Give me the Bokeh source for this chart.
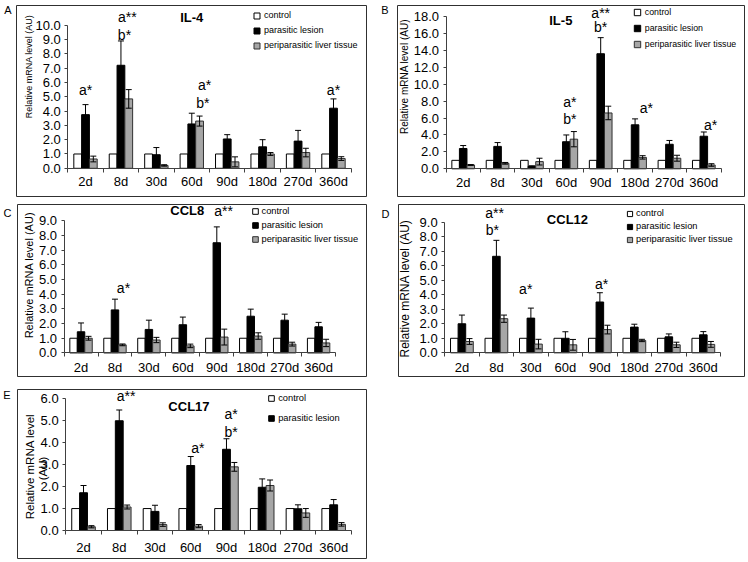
import numpy as np
from bokeh.plotting import figure
from bokeh.models import (Range1d, FixedTicker, NumeralTickFormatter, ColumnDataSource,
                          Whisker, TeeHead, Label, LabelSet, Legend, LegendItem,
                          LinearAxis, Spacer)
from bokeh.layouts import row, column
from bokeh.core.properties import value
from bokeh.embed import file_html
from bokeh.resources import INLINE

# ---------------- data ----------------
days = ["2d", "8d", "30d", "60d", "90d", "180d", "270d", "360d"]
series_names = ["control", "parasitic lesion", "periparasitic liver tissue"]
control = [1.0, 1.0, 1.0, 1.0, 1.0, 1.0, 1.0, 1.0]

# A  IL-4
il4_lesion = [3.75, 7.2, 0.95, 3.1, 2.05, 1.5, 1.9, 4.2]
il4_lesion_err = [0.7, 1.7, 0.5, 0.75, 0.3, 0.5, 0.75, 0.65]
il4_peri = [0.65, 4.85, 0.2, 3.3, 0.45, 1.0, 1.1, 0.68]
il4_peri_err = [0.2, 0.65, 0.05, 0.35, 0.35, 0.1, 0.3, 0.13]
il4_ann_day = ["2d", "8d", "8d", "60d", "60d", "360d"]
il4_ann_text = ["a*", "a**", "b*", "a*", "b*", "a*"]
il4_ann_y = [5.45, 10.6, 9.3, 5.8, 4.55, 5.45]

# B  IL-5
il5_lesion = [2.4, 2.65, 0.3, 3.2, 13.6, 5.2, 2.9, 3.85]
il5_lesion_err = [0.35, 0.45, 0.05, 0.8, 1.9, 0.7, 0.45, 0.5]
il5_peri = [0.45, 0.65, 0.85, 3.5, 6.6, 1.35, 1.25, 0.45]
il5_peri_err = [0.05, 0.1, 0.4, 0.9, 0.8, 0.2, 0.35, 0.15]
il5_ann_day = ["60d", "60d", "90d", "90d", "180d", "360d"]
il5_ann_text = ["a*", "b*", "a**", "b*", "a*", "a*"]
il5_ann_y = [7.9, 5.9, 18.4, 16.7, 7.2, 5.2]

# C  CCL8
ccl8_lesion = [1.44, 2.93, 1.6, 1.92, 7.5, 2.5, 2.23, 1.78]
ccl8_lesion_err = [0.6, 0.73, 0.63, 0.52, 1.08, 0.48, 0.41, 0.3]
ccl8_peri = [1.0, 0.55, 0.88, 0.48, 1.08, 1.15, 0.6, 0.68]
ccl8_peri_err = [0.13, 0.06, 0.18, 0.12, 0.54, 0.22, 0.13, 0.25]
ccl8_ann_day = ["8d", "90d"]
ccl8_ann_text = ["a*", "a**"]
ccl8_ann_y = [4.44, 9.65]

# D  CCL12
ccl12_lesion = [2.0, 6.65, 2.39, 1.0, 3.5, 1.77, 1.1, 1.24]
ccl12_lesion_err = [0.6, 1.1, 0.69, 0.45, 0.64, 0.2, 0.2, 0.22]
ccl12_peri = [0.78, 2.35, 0.6, 0.55, 1.6, 0.85, 0.55, 0.58]
ccl12_peri_err = [0.2, 0.25, 0.33, 0.37, 0.3, 0.08, 0.18, 0.2]
ccl12_ann_day = ["8d", "8d", "30d", "90d"]
ccl12_ann_text = ["a**", "b*", "a*", "a*"]
ccl12_ann_y = [9.62, 8.47, 4.41, 4.71]

# E  CCL17
ccl17_lesion = [1.72, 5.0, 0.87, 2.96, 3.7, 1.97, 0.99, 1.17]
ccl17_lesion_err = [0.33, 0.49, 0.28, 0.41, 0.48, 0.38, 0.18, 0.24]
ccl17_peri = [0.17, 1.07, 0.27, 0.2, 2.9, 2.05, 0.8, 0.28]
ccl17_peri_err = [0.05, 0.09, 0.08, 0.07, 0.2, 0.25, 0.2, 0.08]
ccl17_ann_day = ["8d", "60d", "90d", "90d"]
ccl17_ann_text = ["a**", "a*", "a*", "b*"]
ccl17_ann_y = [6.12, 3.78, 5.33, 4.51]

# ---------------- layout / style ----------------
FONT = "Liberation Sans"
AXC = "#404040"
BOXC = "#303030"
GRAY = "#a6a6a6"
BW = 0.22

# frame = (left, right, top, bottom) in canvas px ; axes_px = (x axis start, x axis end, y zero, y max)
# letter = (standoff from box, canvas y) ; leg = (swatch x, first row y, row height, spacing)
LAYOUT = {
    "A": dict(w=370, h=198, frame=(16, 366, 5, 196), axes_px=(67.3, 350.7, 167.8, 24.7),
              ymax=10, ystep=1, letter=(5, 9), x_standoff=2,
              ylab=[(28, 66, "Relative mRNA level (AU)")], ylab_size=9,
              title_xy=(3.0, 10.56), ann_dx=[0, 0.18, 0.1, 0.36, 0.31, 0],
              leg=(256.5, 15, 15, 0), leg_size=9),
    "B": dict(w=368, h=198, frame=(19, 366, 5, 196), axes_px=(67.5, 342.5, 168.3, 16),
              ymax=18, ystep=2, letter=(9, 9), x_standoff=2,
              ylab=[(26, 76, "Relative mRNA level (AU)")], ylab_size=10,
              title_xy=(2.84, 17.5), ann_dx=[0.1, 0.1, 0, 0, 0.33, 0.2],
              leg=(258.8, 12, 16, 0), leg_size=8.8),
    "C": dict(w=370, h=180, frame=(16, 366, 5, 178), axes_px=(62.7, 335, 154.3, 21.3),
              ymax=9, ystep=1, letter=(6, 14), x_standoff=3,
              ylab=[(27.5, 76, "Relative mRNA level (AU)")], ylab_size=11,
              title_xy=(3.13, 9.68), ann_dx=[0.25, 0.2],
              leg=(253.5, 12.7, 14, 0), leg_size=9.3),
    "D": dict(w=368, h=180, frame=(19, 366, 6, 178), axes_px=(65.3, 342, 154.3, 23.7),
              ymax=9, ystep=1, letter=(9, 15), x_standoff=3,
              ylab=[(26, 90, "Relative mRNA level (AU)")], ylab_size=12,
              title_xy=(3.06, 9.19), ann_dx=[-0.05, -0.12, -0.15, 0.05],
              leg=(250.5, 15.3, 13, 0), leg_size=9.3),
    "E": dict(w=370, h=182, frame=(16, 366, 11, 180), axes_px=(64.3, 351, 152, 20.3),
              ymax=6, ystep=1, letter=(7, 16), x_standoff=5,
              ylab=[(28.3, 88, "Relative mRNA level"), (41.7, 90, "(AU)")], ylab_size=11.5,
              title_xy=(2.95, 5.66), ann_dx=[0.19, 0.2, 0.13, 0.13],
              leg=(270.2, 19.7, 14, 6), leg_size=9.3),
}


def make_panel(key, title, lesion, lesion_err, peri, peri_err, ann_day, ann_text, ann_y, legend_labels):
    L = LAYOUT[key]
    w, h = L["w"], L["h"]
    fl, fr, ft, fb = L["frame"]
    x0c, x1c, y0c, y1c = L["axes_px"]
    ymax, ystep = L["ymax"], L["ystep"]
    n = len(days)
    ppx = (x1c - x0c) / n
    ppy = (y0c - y1c) / ymax
    xs, xe = -0.5 - (x0c - fl) / ppx, n - 0.5 + (fr - x1c) / ppx
    ys, ye = -(fb - y0c) / ppy, ymax + (y1c - ft) / ppy

    p = figure(width=w, height=h, x_range=Range1d(xs, xe), y_range=Range1d(ys, ye),
               output_backend="svg", toolbar_location=None,
               min_border_left=fl, min_border_right=w - fr, min_border_top=ft, min_border_bottom=h - fb)
    p.extra_x_ranges = {"px": Range1d(fl, fr)}
    p.extra_y_ranges = {"px": Range1d(fb, ft)}
    p.outline_line_color = BOXC
    p.outline_line_width = 1
    p.background_fill_color = "white"
    p.border_fill_color = "white"
    p.xgrid.visible = False
    p.ygrid.visible = False

    idx = np.arange(n)
    src = ColumnDataSource(dict(
        xc=idx - BW, xl=idx, xp=idx + BW, control=control, lesion=lesion, peri=peri,
        les_up=np.array(lesion) + np.array(lesion_err), les_lo=np.array(lesion) - np.array(lesion_err),
        peri_up=np.array(peri) + np.array(peri_err), peri_lo=np.array(peri) - np.array(peri_err),
    ))
    p.vbar(x="xc", top="control", width=BW, source=src, fill_color="white", line_color="black", line_width=1)
    p.vbar(x="xl", top="lesion", width=BW, source=src, fill_color="black", line_color="black", line_width=1)
    p.vbar(x="xp", top="peri", width=BW, source=src, fill_color=GRAY, line_color=BOXC, line_width=1)

    for base, up, lo in (("xl", "les_up", "les_lo"), ("xp", "peri_up", "peri_lo")):
        p.add_layout(Whisker(base=base, upper=up, lower=lo, source=src, level="annotation",
                             line_color="black", line_width=1,
                             upper_head=TeeHead(size=6, line_color="black", line_width=1),
                             lower_head=TeeHead(size=6, line_color="black", line_width=1)))

    # x axis drawn at y = 0, ticks between categories
    xa = p.xaxis[0]
    xa.fixed_location = 0
    xa.bounds = (-0.5, n - 0.5)
    xa.ticker = FixedTicker(ticks=list(range(n)), minor_ticks=[i - 0.5 for i in range(n + 1)])
    xa.major_label_overrides = {i: d for i, d in enumerate(days)}
    xa.major_tick_line_color = None
    xa.major_tick_out = 0
    xa.major_tick_in = 0
    xa.minor_tick_line_color = AXC
    xa.minor_tick_out = 4
    xa.minor_tick_in = 0
    xa.axis_line_color = AXC
    xa.major_label_standoff = L["x_standoff"]
    xa.major_label_text_font = FONT
    xa.major_label_text_font_size = "13px"
    xa.major_label_text_color = "black"

    ya = p.yaxis[0]
    ya.fixed_location = -0.5
    ya.bounds = (0, ymax)
    ya.ticker = FixedTicker(ticks=list(np.arange(0, ymax + ystep / 2, ystep)))
    ya.formatter = NumeralTickFormatter(format="0.0")
    ya.major_tick_out = 3
    ya.major_tick_in = 0
    ya.minor_tick_line_color = None
    ya.major_tick_line_color = AXC
    ya.axis_line_color = AXC
    ya.major_label_standoff = 4
    ya.major_label_text_font = FONT
    ya.major_label_text_font_size = "13px"
    ya.major_label_text_color = "black"

    # panel letter, outside the box on the left
    lstd, ly = L["letter"]
    la = LinearAxis(y_range_name="px", ticker=FixedTicker(ticks=[ly]),
                    major_label_overrides={ly: key}, axis_line_color=None,
                    major_tick_line_color=None, minor_tick_line_color=None,
                    major_tick_out=0, major_tick_in=0, minor_tick_out=0, minor_tick_in=0,
                    major_label_standoff=lstd, major_label_text_font=FONT,
                    major_label_text_font_size="11px", major_label_text_color="black")
    p.add_layout(la, "left")

    # y axis title (rotated text)
    for (cx, cy, txt) in L["ylab"]:
        p.add_layout(Label(x=cx, y=cy, x_range_name="px", y_range_name="px", text=txt,
                           angle=np.pi / 2, text_align="center", text_baseline="middle",
                           text_font=FONT, text_font_size=f'{L["ylab_size"]}px', text_color="black"))

    # chart title
    tx, ty = L["title_xy"]
    p.add_layout(Label(x=tx, y=ty, text=title, text_align="center", text_baseline="middle",
                       text_font=FONT, text_font_size="13px", text_font_style="bold",
                       text_color="black"))

    # significance marks
    asrc = ColumnDataSource(dict(
        x=[days.index(d) + dx for d, dx in zip(ann_day, L["ann_dx"])],
        y=ann_y, text=ann_text))
    p.add_layout(LabelSet(x="x", y="y", text="text", source=asrc, text_align="center",
                          text_baseline="middle", text_font=value(FONT),
                          text_font_size="14px", text_color="black"))

    # legend (square swatches)
    styles = [("white", "black"), ("black", "black"), (GRAY, BOXC)]
    items = []
    for lab, (fc, lc) in zip(legend_labels, styles):
        r = p.scatter(x=np.array([np.nan]), y=np.array([np.nan]), marker="square",
                      fill_color=fc, line_color=lc, line_width=1)
        items.append(LegendItem(label=lab, renderers=[r]))
    lcx, lcy, H, sp = L["leg"]
    k = len(items)
    leg_h = k * H + (k - 1) * sp
    vx = lcx - H / 2 - fl
    vy = fb - (lcy - H / 2 + leg_h)
    p.add_layout(Legend(items=items, location=(vx, vy), glyph_width=H, glyph_height=H,
                        label_height=H, spacing=sp, padding=0, margin=0, label_standoff=0,
                        border_line_color=None, background_fill_alpha=0,
                        label_text_font=FONT, label_text_font_size=f'{L["leg_size"]}px',
                        label_text_color="black"))
    return p


pA = make_panel("A", "IL-4", il4_lesion, il4_lesion_err, il4_peri, il4_peri_err,
                il4_ann_day, il4_ann_text, il4_ann_y, series_names)
pB = make_panel("B", "IL-5", il5_lesion, il5_lesion_err, il5_peri, il5_peri_err,
                il5_ann_day, il5_ann_text, il5_ann_y, series_names)
pC = make_panel("C", "CCL8", ccl8_lesion, ccl8_lesion_err, ccl8_peri, ccl8_peri_err,
                ccl8_ann_day, ccl8_ann_text, ccl8_ann_y, series_names)
pD = make_panel("D", "CCL12", ccl12_lesion, ccl12_lesion_err, ccl12_peri, ccl12_peri_err,
                ccl12_ann_day, ccl12_ann_text, ccl12_ann_y, series_names)
pE = make_panel("E", "CCL17", ccl17_lesion, ccl17_lesion_err, ccl17_peri, ccl17_peri_err,
                ccl17_ann_day, ccl17_ann_text, ccl17_ann_y, series_names[:2])

layout = column(
    row(pA, Spacer(width=8), pB),
    row(pC, Spacer(width=8), pD),
    row(pE),
)

open("out.html", "w").write(file_html(layout, INLINE))
